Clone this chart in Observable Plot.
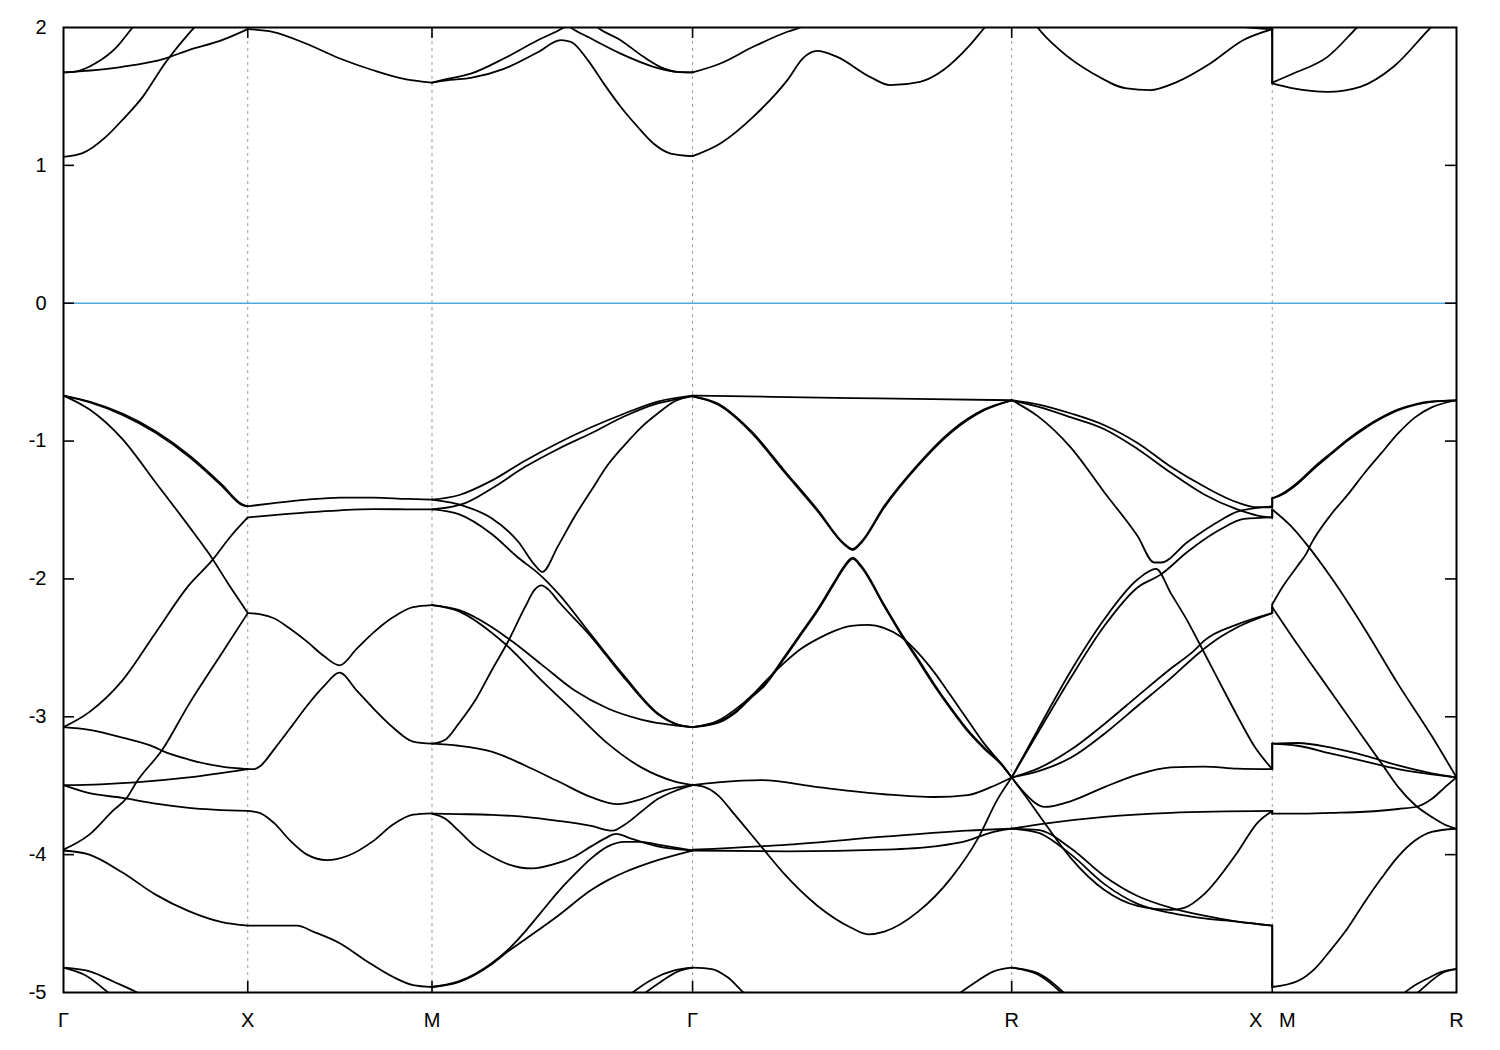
<!DOCTYPE html>
<html>
<head>
<meta charset="utf-8">
<script src="https://cdn.jsdelivr.net/npm/d3@7"></script>
<script src="https://cdn.jsdelivr.net/npm/@observablehq/plot@0.6"></script>
<style>
  html, body { margin: 0; padding: 0; background: #fff; }
  #chart { width: 1500px; height: 1050px; }
</style>
</head>
<body>
<div id="chart"></div>
<script>
// ---- k-path ----
const kTicks = [0, 0.5, 1.0, 1.7071, 2.5731, 3.2802, 3.7802];
const kLabels = ["Γ", "X", "M", "Γ", "R", "X\u00a0\u00a0\u00a0M", "R"];
const yTicks = [2, 1, 0, -1, -2, -3, -4, -5];

// ---- bands, per path segment: [fraction along segment, energy eV] ----
const segGX = [
  {id: "A",  pts: [[0,-0.67],[0.14,-0.713],[0.32,-0.80],[0.5,-0.928],[0.68,-1.10],[0.86,-1.316],[0.97,-1.459],[1,-1.473]]},
  {id: "A2", pts: [[0,-0.67],[0.14,-0.718],[0.32,-0.81],[0.5,-0.94],[0.68,-1.112],[0.86,-1.326],[0.97,-1.465],[1,-1.473]]},
  {id: "B",  pts: [[0,-0.67],[0.14,-0.77],[0.32,-0.986],[0.5,-1.30],[0.68,-1.617],[0.79,-1.818],[0.9,-2.047],[1,-2.248]]},
  {id: "C",  pts: [[0,-3.075],[0.14,-2.966],[0.32,-2.736],[0.5,-2.39],[0.68,-2.047],[0.81,-1.86],[0.9,-1.703],[1,-1.554]]},
  {id: "D",  pts: [[0,-3.075],[0.14,-3.095],[0.32,-3.152],[0.5,-3.224],[0.537,-3.247],[0.68,-3.31],[0.86,-3.362],[1,-3.38]]},
  {id: "E",  pts: [[0,-3.964],[0.14,-3.855],[0.267,-3.683],[0.348,-3.58],[0.393,-3.48],[0.537,-3.238],[0.681,-2.908],[0.861,-2.535],[1,-2.248]]},
  {id: "F",  pts: [[0,-3.496],[0.2,-3.49],[0.39,-3.476],[0.68,-3.44],[1,-3.38]]},
  {id: "G",  pts: [[0,-3.496],[0.14,-3.554],[0.32,-3.588],[0.5,-3.63],[0.68,-3.66],[1,-3.683]]},
  {id: "H",  pts: [[0,-3.97],[0.14,-4.0],[0.32,-4.13],[0.5,-4.29],[0.68,-4.41],[0.86,-4.49],[1,-4.515]]},
  {id: "I1", pts: [[0,-4.82],[0.125,-4.88],[0.25,-5.01],[0.4,-5.2]]},
  {id: "I2", pts: [[0,-4.82],[0.15,-4.85],[0.27,-4.92],[0.4,-5.0],[0.5,-5.08]]},
  {id: "T1", pts: [[0,1.674],[0.065,1.68],[0.174,1.74],[0.283,1.85],[0.375,2.0],[0.45,2.12]]},
  {id: "T2", pts: [[0,1.674],[0.32,1.715],[0.55,1.775],[0.68,1.836],[0.86,1.908],[1,1.988]]},
  {id: "T3", pts: [[0,1.062],[0.10,1.087],[0.23,1.207],[0.32,1.33],[0.43,1.497],[0.55,1.739],[0.68,1.956],[0.73,2.03]]}
];

const segXM = [
  {id: "1", pts: [[0,-1.473],[0.142,-1.45],[0.322,-1.425],[0.502,-1.41],[0.682,-1.41],[0.862,-1.42],[1,-1.425]]},
  {id: "2", pts: [[0,-1.554],[0.142,-1.537],[0.322,-1.517],[0.502,-1.502],[0.682,-1.494],[0.862,-1.495],[1,-1.496]]},
  {id: "3", pts: [[0,-2.248],[0.07,-2.257],[0.142,-2.285],[0.232,-2.363],[0.322,-2.455],[0.412,-2.558],[0.498,-2.627],[0.592,-2.506],[0.682,-2.39],[0.79,-2.277],[0.897,-2.205],[1,-2.19]]},
  {id: "4", pts: [[0,-3.38],[0.034,-3.38],[0.07,-3.355],[0.142,-3.238],[0.232,-3.08],[0.322,-2.92],[0.412,-2.78],[0.498,-2.68],[0.592,-2.81],[0.682,-2.94],[0.79,-3.08],[0.897,-3.18],[1,-3.195]]},
  {id: "5", pts: [[0,-3.683],[0.07,-3.70],[0.142,-3.77],[0.232,-3.90],[0.322,-4.0],[0.43,-4.04],[0.54,-4.01],[0.682,-3.90],[0.79,-3.78],[0.897,-3.71],[1,-3.70]]},
  {id: "6", pts: [[0,-4.515],[0.142,-4.515],[0.268,-4.515],[0.358,-4.56],[0.502,-4.644],[0.646,-4.773],[0.79,-4.888],[0.897,-4.946],[1,-4.96]]},
  {id: "T", pts: [[0,1.988],[0.135,1.969],[0.315,1.884],[0.5,1.775],[0.68,1.69],[0.86,1.623],[1,1.60]]}
];

const segMG = [
  {id: "R1", pts: [[0,-1.425],[0.102,-1.393],[0.229,-1.287],[0.357,-1.143],[0.484,-1.014],[0.611,-0.90],[0.739,-0.80],[0.866,-0.713],[1,-0.67]]},
  {id: "R2", pts: [[0,-1.496],[0.127,-1.45],[0.229,-1.344],[0.357,-1.187],[0.484,-1.057],[0.611,-0.943],[0.739,-0.82],[0.866,-0.727],[1,-0.675]]},
  {id: "U",  pts: [[0,-1.425],[0.127,-1.473],[0.229,-1.56],[0.331,-1.73],[0.395,-1.90],[0.423,-1.95],[0.484,-1.76],[0.548,-1.545],[0.611,-1.359],[0.675,-1.172],[0.739,-1.029],[0.803,-0.90],[0.866,-0.80],[0.93,-0.713],[1,-0.67]]},
  {id: "D2", pts: [[0,-1.496],[0.102,-1.53],[0.229,-1.674],[0.331,-1.846],[0.408,-1.96],[0.484,-2.105],[0.611,-2.406],[0.739,-2.707],[0.866,-2.974],[0.943,-3.057],[1,-3.075]]},
  {id: "L",  pts: [[0,-3.195],[0.051,-3.166],[0.102,-3.05],[0.166,-2.88],[0.229,-2.664],[0.293,-2.45],[0.357,-2.205],[0.395,-2.076],[0.42,-2.047],[0.446,-2.076],[0.484,-2.16],[0.611,-2.42],[0.739,-2.72],[0.866,-2.98],[0.943,-3.057],[1,-3.075]]},
  {id: "a",  pts: [[0,-2.19],[0.102,-2.225],[0.229,-2.349],[0.28,-2.415],[0.306,-2.45],[0.42,-2.62],[0.548,-2.81],[0.675,-2.94],[0.803,-3.02],[1,-3.075]]},
  {id: "b",  pts: [[0,-2.19],[0.102,-2.234],[0.229,-2.39],[0.28,-2.47],[0.42,-2.736],[0.548,-2.966],[0.675,-3.195],[0.803,-3.367],[0.93,-3.468],[1,-3.496]]},
  {id: "c",  pts: [[0,-3.195],[0.102,-3.21],[0.229,-3.253],[0.357,-3.353],[0.484,-3.468],[0.611,-3.583],[0.713,-3.634],[0.803,-3.597],[0.892,-3.534],[1,-3.496]]},
  {id: "i",  pts: [[0,-3.703],[0.102,-3.706],[0.229,-3.711],[0.357,-3.726],[0.484,-3.755],[0.611,-3.792],[0.694,-3.826],[0.739,-3.783],[0.803,-3.689],[0.866,-3.597],[0.93,-3.54],[1,-3.496]]},
  {id: "ii", pts: [[0,-3.703],[0.051,-3.74],[0.102,-3.826],[0.166,-3.94],[0.229,-4.013],[0.293,-4.07],[0.382,-4.10],[0.484,-4.06],[0.548,-4.013],[0.611,-3.94],[0.662,-3.884],[0.707,-3.85],[0.764,-3.884],[0.866,-3.94],[1,-3.97]]},
  {id: "iii",pts: [[0,-4.96],[0.102,-4.92],[0.229,-4.787],[0.293,-4.687],[0.357,-4.558],[0.42,-4.415],[0.484,-4.27],[0.548,-4.142],[0.611,-4.027],[0.675,-3.94],[0.739,-3.907],[0.803,-3.907],[0.866,-3.927],[1,-3.97]]},
  {id: "iv", pts: [[0,-4.96],[0.102,-4.925],[0.229,-4.795],[0.293,-4.70],[0.357,-4.615],[0.484,-4.443],[0.611,-4.257],[0.675,-4.185],[0.739,-4.128],[0.866,-4.04],[1,-3.97]]},
  {id: "v",  pts: [[0.72,-5.08],[0.77,-5.0],[0.85,-4.9],[0.93,-4.84],[1,-4.82]]},
  {id: "vi", pts: [[0.78,-5.06],[0.82,-5.0],[0.88,-4.92],[0.94,-4.85],[1,-4.82]]},
  {id: "C1", pts: [[0,1.60],[0.054,1.625],[0.149,1.665],[0.276,1.775],[0.406,1.908],[0.487,1.98],[0.506,2.0],[0.55,2.06]]},
  {id: "C2", pts: [[0,1.60],[0.07,1.62],[0.149,1.635],[0.276,1.70],[0.406,1.82],[0.494,1.908],[0.533,1.896],[0.598,1.763],[0.659,1.594],[0.724,1.425],[0.789,1.28],[0.85,1.159],[0.916,1.086],[1,1.067]]},
  {id: "C3", pts: [[0.48,2.1],[0.533,2.0],[0.598,1.932],[0.724,1.81],[0.85,1.715],[0.94,1.678],[1,1.674]]},
  {id: "C4", pts: [[0.58,2.1],[0.636,2.0],[0.724,1.908],[0.812,1.787],[0.889,1.703],[0.94,1.678],[1,1.674]]}
];

const segGR = [
  {id: "1",  pts: [[0,-0.67],[0.25,-0.679],[0.5,-0.688],[0.75,-0.696],[1,-0.704]]},
  {id: "2",  pts: [[0,-0.675],[0.079,-0.727],[0.184,-0.928],[0.288,-1.215],[0.393,-1.502],[0.476,-1.746],[0.502,-1.783],[0.529,-1.73],[0.601,-1.47],[0.706,-1.17],[0.81,-0.928],[0.914,-0.77],[1,-0.704]]},
  {id: "2b", pts: [[0,-0.675],[0.079,-0.735],[0.184,-0.938],[0.288,-1.226],[0.393,-1.512],[0.476,-1.752],[0.502,-1.79],[0.529,-1.738],[0.601,-1.48],[0.706,-1.18],[0.81,-0.938],[0.914,-0.776],[1,-0.704]]},
  {id: "3",  pts: [[0,-3.075],[0.079,-3.037],[0.132,-2.966],[0.184,-2.85],[0.225,-2.765],[0.288,-2.564],[0.34,-2.392],[0.392,-2.22],[0.445,-2.019],[0.476,-1.904],[0.502,-1.846],[0.528,-1.904],[0.601,-2.19],[0.653,-2.392],[0.706,-2.578],[0.758,-2.765],[0.81,-2.937],[0.862,-3.095],[0.914,-3.224],[0.967,-3.34],[1,-3.44]]},
  {id: "3b", pts: [[0,-3.075],[0.079,-3.045],[0.132,-2.975],[0.184,-2.86],[0.225,-2.775],[0.288,-2.575],[0.34,-2.403],[0.392,-2.231],[0.445,-2.03],[0.476,-1.914],[0.502,-1.855],[0.528,-1.913],[0.601,-2.2],[0.653,-2.402],[0.706,-2.59],[0.758,-2.776],[0.81,-2.947],[0.862,-3.105],[0.914,-3.232],[0.967,-3.345],[1,-3.44]]},
  {id: "4",  pts: [[0,-3.075],[0.079,-3.03],[0.132,-2.95],[0.184,-2.85],[0.225,-2.75],[0.288,-2.607],[0.34,-2.507],[0.392,-2.435],[0.445,-2.377],[0.497,-2.34],[0.549,-2.334],[0.601,-2.357],[0.653,-2.42],[0.706,-2.535],[0.758,-2.68],[0.81,-2.85],[0.862,-3.023],[0.914,-3.195],[0.967,-3.34],[1,-3.44]]},
  {id: "5",  pts: [[0,-3.496],[0.079,-3.476],[0.215,-3.459],[0.392,-3.51],[0.601,-3.562],[0.758,-3.582],[0.862,-3.568],[0.935,-3.51],[1,-3.44]]},
  {id: "6",  pts: [[0,-3.496],[0.038,-3.51],[0.079,-3.568],[0.132,-3.71],[0.22,-3.955],[0.288,-4.142],[0.392,-4.372],[0.497,-4.53],[0.549,-4.578],[0.601,-4.558],[0.706,-4.415],[0.81,-4.17],[0.894,-3.884],[0.956,-3.597],[1,-3.44]]},
  {id: "7",  pts: [[0,-3.964],[0.3,-3.927],[0.6,-3.87],[0.86,-3.826],[1,-3.812]]},
  {id: "8",  pts: [[0,-3.97],[0.3,-3.976],[0.6,-3.964],[0.758,-3.94],[0.862,-3.898],[0.935,-3.84],[1,-3.812]]},
  {id: "9",  pts: [[0,-4.82],[0.06,-4.83],[0.11,-4.89],[0.16,-5.0],[0.2,-5.07]]},
  {id: "10", pts: [[0.8,-5.07],[0.84,-5.0],[0.89,-4.92],[0.94,-4.85],[1,-4.82]]},
  {id: "T1", pts: [[0,1.674],[0.087,1.739],[0.19,1.86],[0.297,1.969],[0.337,2.0],[0.4,2.08]]},
  {id: "T2", pts: [[0,1.067],[0.087,1.159],[0.19,1.352],[0.297,1.618],[0.347,1.78],[0.39,1.831],[0.453,1.787],[0.556,1.642],[0.619,1.582],[0.713,1.606],[0.785,1.69],[0.869,1.872],[0.916,2.0],[0.95,2.08]]}
];

const segRX = [
  {id: "1",   pts: [[0,-0.704],[0.1,-0.733],[0.228,-0.80],[0.356,-0.885],[0.483,-1.014],[0.611,-1.187],[0.739,-1.33],[0.866,-1.445],[0.943,-1.48],[1,-1.48]]},
  {id: "2",   pts: [[0,-0.704],[0.1,-0.75],[0.228,-0.828],[0.356,-0.914],[0.483,-1.057],[0.611,-1.23],[0.739,-1.387],[0.866,-1.496],[0.943,-1.54],[1,-1.554]]},
  {id: "a",   pts: [[0,-0.704],[0.1,-0.819],[0.228,-1.049],[0.356,-1.373],[0.483,-1.689],[0.547,-1.881],[0.573,-1.881],[0.675,-1.732],[0.802,-1.574],[0.866,-1.511],[1,-1.473]]},
  {id: "b",   pts: [[0,-3.44],[0.1,-3.095],[0.228,-2.664],[0.356,-2.29],[0.483,-2.004],[0.554,-1.927],[0.611,-2.105],[0.675,-2.306],[0.719,-2.463],[0.802,-2.765],[0.866,-2.994],[0.93,-3.21],[1,-3.38]]},
  {id: "c",   pts: [[0,-3.44],[0.1,-3.118],[0.228,-2.713],[0.356,-2.34],[0.483,-2.062],[0.573,-1.967],[0.675,-1.803],[0.802,-1.64],[0.892,-1.565],[1,-1.554]]},
  {id: "d",   pts: [[0,-3.44],[0.1,-3.376],[0.228,-3.238],[0.356,-3.052],[0.483,-2.85],[0.611,-2.65],[0.7,-2.52],[0.739,-2.448],[0.866,-2.33],[1,-2.248]]},
  {id: "e",   pts: [[0,-3.44],[0.1,-3.396],[0.228,-3.296],[0.356,-3.123],[0.483,-2.922],[0.611,-2.72],[0.72,-2.535],[0.802,-2.42],[0.866,-2.35],[1,-2.248]]},
  {id: "8",   pts: [[0,-3.44],[0.05,-3.554],[0.126,-3.654],[0.228,-3.611],[0.356,-3.51],[0.483,-3.419],[0.611,-3.367],[0.739,-3.361],[0.866,-3.376],[1,-3.38]]},
  {id: "9",   pts: [[0,-3.44],[0.05,-3.568],[0.126,-3.769],[0.228,-4.027],[0.356,-4.257],[0.483,-4.372],[0.611,-4.40],[0.662,-4.386],[0.739,-4.286],[0.866,-3.984],[0.943,-3.769],[1,-3.683]]},
  {id: "10",  pts: [[0,-3.812],[0.126,-3.775],[0.356,-3.726],[0.611,-3.697],[1,-3.683]]},
  {id: "11a", pts: [[0,-3.812],[0.1,-3.82],[0.228,-3.955],[0.356,-4.156],[0.483,-4.30],[0.611,-4.386],[0.739,-4.443],[0.866,-4.486],[1,-4.515]]},
  {id: "11b", pts: [[0,-3.812],[0.1,-3.84],[0.228,-4.0],[0.356,-4.214],[0.483,-4.357],[0.611,-4.423],[0.739,-4.463],[0.866,-4.486],[1,-4.515]]},
  {id: "12",  pts: [[0,-4.82],[0.1,-4.86],[0.17,-4.95],[0.21,-5.02],[0.25,-5.1]]},
  {id: "12b", pts: [[0,-4.82],[0.1,-4.87],[0.16,-4.95],[0.2,-5.02]]},
  {id: "T",   pts: [[0.05,2.15],[0.1,2.0],[0.185,1.836],[0.312,1.667],[0.442,1.558],[0.53,1.546],[0.635,1.606],[0.762,1.739],[0.888,1.908],[1,1.988]]},
  {id: "T2",  pts: [[0.83,2.05],[0.87,2.01],[1,1.988]]}
];

const segMR = [
  {id: "1",  pts: [[0,-1.416],[0.065,-1.373],[0.138,-1.30],[0.229,-1.187],[0.32,-1.086],[0.411,-0.986],[0.502,-0.90],[0.593,-0.828],[0.684,-0.77],[0.775,-0.733],[0.865,-0.713],[1,-0.704]]},
  {id: "1b", pts: [[0,-1.416],[0.065,-1.38],[0.138,-1.31],[0.229,-1.197],[0.32,-1.095],[0.411,-0.995],[0.502,-0.908],[0.593,-0.835],[0.684,-0.776],[0.775,-0.737],[0.865,-0.715],[1,-0.704]]},
  {id: "2",  pts: [[0,-1.496],[0.102,-1.617],[0.193,-1.76],[0.32,-1.99],[0.502,-2.363],[0.684,-2.765],[0.865,-3.138],[1,-3.44]]},
  {id: "3",  pts: [[0,-2.185],[0.047,-2.076],[0.138,-1.904],[0.184,-1.818],[0.211,-1.746],[0.32,-1.531],[0.411,-1.387],[0.502,-1.23],[0.593,-1.086],[0.684,-0.943],[0.775,-0.828],[0.865,-0.756],[1,-0.704]]},
  {id: "4",  pts: [[0,-2.205],[0.065,-2.334],[0.138,-2.478],[0.229,-2.65],[0.32,-2.822],[0.411,-2.994],[0.502,-3.166],[0.593,-3.338],[0.684,-3.51],[0.775,-3.64],[0.865,-3.726],[0.938,-3.783],[1,-3.812]]},
  {id: "5",  pts: [[0,-3.195],[0.138,-3.19],[0.32,-3.224],[0.502,-3.281],[0.684,-3.353],[0.865,-3.41],[1,-3.44]]},
  {id: "6",  pts: [[0,-3.195],[0.138,-3.21],[0.32,-3.267],[0.502,-3.324],[0.684,-3.38],[0.865,-3.418],[1,-3.44]]},
  {id: "7",  pts: [[0,-3.703],[0.138,-3.703],[0.32,-3.697],[0.502,-3.689],[0.684,-3.669],[0.793,-3.649],[0.865,-3.597],[0.938,-3.51],[1,-3.44]]},
  {id: "8",  pts: [[0,-4.96],[0.138,-4.917],[0.229,-4.83],[0.32,-4.687],[0.411,-4.53],[0.502,-4.343],[0.593,-4.17],[0.684,-4.013],[0.775,-3.898],[0.865,-3.835],[1,-3.812]]},
  {id: "9",  pts: [[0.7,-5.02],[0.76,-4.96],[0.84,-4.9],[0.92,-4.85],[1,-4.83]]},
  {id: "10", pts: [[0.74,-5.05],[0.79,-5.0],[0.85,-4.93],[0.92,-4.86],[1,-4.83]]},
  {id: "T1", pts: [[0,1.60],[0.114,1.666],[0.30,1.787],[0.46,2.0],[0.52,2.08]]},
  {id: "T2", pts: [[0,1.594],[0.114,1.558],[0.30,1.533],[0.478,1.57],[0.658,1.715],[0.86,2.0],[0.92,2.08]]}
];

// band continuity across the X|M break: [R-X curve, M-R curve]
const joinsXM = [["1","1"],["a","1"],["2","2"],["c","2"],["d","3"],["e","4"],["b","5"],["8","6"],["9","7"],["10","7"],["11a","8"],["11b","8"],["T","T2"],["T2","T1"]];

// ---- build tidy rows ----
const segments = [
  ["GX", segGX, 0, 1],
  ["XM", segXM, 1, 2],
  ["MG", segMG, 2, 3],
  ["GR", segGR, 3, 4],
  ["RX", segRX, 4, 5],
  ["MR", segMR, 5, 6]
];
const rows = [];
for (const [name, curves, i0, i1] of segments) {
  const k0 = kTicks[i0], k1 = kTicks[i1];
  for (const c of curves) {
    for (const [f, E] of c.pts) rows.push({id: name + c.id, k: k0 + f * (k1 - k0), E});
  }
}
const joinRows = [];
for (const [a, b] of joinsXM) {
  const ca = segRX.find(c => c.id === a), cb = segMR.find(c => c.id === b);
  const ea = ca.pts[ca.pts.length - 1][1], eb = cb.pts[0][1];
  joinRows.push({id: "J" + a, k: kTicks[5], E: ea});
  joinRows.push({id: "J" + a, k: kTicks[5], E: eb});
}

// ---- layout ----
const W = 1500, H = 1050, ML = 63, MR = 44, MT = 27, MB = 58;
const PW = W - ML - MR, PH = H - MT - MB, TL = 11;
const innerK = kTicks.slice(1, -1);
const innerY = yTicks.slice(1, -1);
const labelOf = new Map(kTicks.map((k, i) => [k, kLabels[i]]));

const chart = Plot.plot({
  width: W, height: H,
  marginLeft: ML, marginRight: MR, marginTop: MT, marginBottom: MB,
  style: {fontFamily: "'Liberation Sans', Arial, sans-serif", fontSize: "20px", background: "#fff", color: "#000"},
  x: {domain: [kTicks[0], kTicks[kTicks.length - 1]]},
  y: {domain: [-5, 2]},
  marks: [
    Plot.ruleX(innerK, {stroke: "#9a9a9a", strokeWidth: 1, strokeDasharray: "3,4"}),
    Plot.ruleY([0], {stroke: "#4ea8de", strokeWidth: 1.6}),
    Plot.line(rows, {x: "k", y: "E", z: "id", stroke: "#000", strokeWidth: 1.8, curve: "monotone-x", clip: true}),
    Plot.line(joinRows, {x: "k", y: "E", z: "id", stroke: "#000", strokeWidth: 1.8, clip: true}),
    Plot.tickY(innerY, {y: d => d, stroke: "#000", strokeWidth: 1.6, insetRight: PW - TL}),
    Plot.tickY(innerY, {y: d => d, stroke: "#000", strokeWidth: 1.6, insetLeft: PW - TL}),
    Plot.tickX(innerK, {x: d => d, stroke: "#000", strokeWidth: 1.6, insetTop: PH - TL}),
    Plot.tickX(innerK, {x: d => d, stroke: "#000", strokeWidth: 1.6, insetBottom: PH - TL}),
    Plot.frame({stroke: "#000", strokeWidth: 2}),
    Plot.axisY({ticks: yTicks, tickSize: 0, tickPadding: 17, tickFormat: d => String(d), label: null, fontSize: 20}),
    Plot.axisX({ticks: kTicks, tickSize: 0, tickPadding: 20, tickFormat: d => labelOf.get(d), label: null, fontSize: 20})
  ]
});
document.getElementById("chart").appendChild(chart);
</script>
</body>
</html>
